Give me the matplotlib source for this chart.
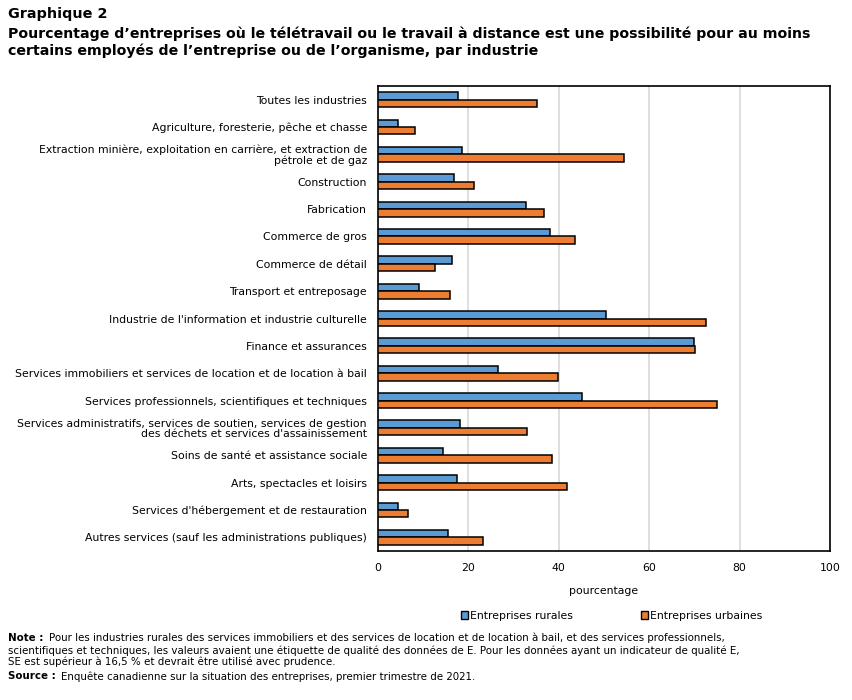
import numpy as np
import matplotlib
matplotlib.use('Agg')
import matplotlib.pyplot as plt
from matplotlib.patches import Patch

industries = [
    'Toutes les industries',
    'Agriculture, foresterie, pêche et chasse',
    'Extraction minière, exploitation en carrière, et extraction de\npétrole et de gaz',
    'Construction',
    'Fabrication',
    'Commerce de gros',
    'Commerce de détail',
    'Transport et entreposage',
    "Industrie de l'information et industrie culturelle",
    'Finance et assurances',
    'Services immobiliers et services de location et de location à bail',
    'Services professionnels, scientifiques et techniques',
    'Services administratifs, services de soutien, services de gestion\ndes déchets et services d\'assainissement',
    'Soins de santé et assistance sociale',
    'Arts, spectacles et loisirs',
    "Services d'hébergement et de restauration",
    'Autres services (sauf les administrations publiques)',
]
rurales = [17.6, 4.4, 18.5, 16.7, 32.7, 38.0, 16.3, 9.0, 50.5, 69.9,
           26.6, 45.1, 18.2, 14.3, 17.4, 4.4, 15.4]
urbaines = [35.2, 8.1, 54.4, 21.3, 36.7, 43.5, 12.7, 16.0, 72.5, 70.1,
            39.8, 74.9, 33.0, 38.5, 41.8, 6.6, 23.3]
xticks = [0, 20, 40, 60, 80, 100]

blue = '#5B9BD5'
orange = '#ED7D31'

fig = plt.figure(figsize=(8.52, 7.0), dpi=100)
ax = fig.add_axes([0.4437, 0.213, 0.5305, 0.664])

y = np.arange(len(industries))
h = 0.27
ax.barh(y - h / 2, rurales, height=h, color=blue, edgecolor='black', linewidth=1.1, zorder=3)
ax.barh(y + h / 2, urbaines, height=h, color=orange, edgecolor='black', linewidth=1.1, zorder=3)

ax.set_ylim(len(industries) - 0.5, -0.5)
ax.set_xlim(0, 100)
ax.set_yticks(y)
ax.set_yticklabels(industries, fontsize=7.8, ha='right', multialignment='right', linespacing=1.0)
ax.set_xticks(xticks)
ax.set_xticklabels([str(t) for t in xticks], fontsize=7.8)
ax.tick_params(axis='x', length=0, pad=9)
ax.tick_params(axis='y', length=0, pad=8)
ax.grid(axis='x', color='#d9d9d9', linewidth=1.2, zorder=0)
for s in ax.spines.values():
    s.set_linewidth(1.2)
    s.set_color('black')
ax.set_xlabel('pourcentage', fontsize=7.8, labelpad=9)

handles = [Patch(facecolor=blue, edgecolor='black', label='Entreprises rurales'),
           Patch(facecolor=orange, edgecolor='black', label='Entreprises urbaines')]
fig.legend(handles=handles, loc='center', bbox_to_anchor=(0.718, 0.12), ncol=2,
           frameon=False, fontsize=7.8, handlelength=0.6, handleheight=0.8,
           handletextpad=0.2, columnspacing=6.3)

fig.text(0.009, 0.99, 'Graphique 2', fontsize=10.35, fontweight='bold', va='top')
fig.text(0.009, 0.962,
         "Pourcentage d\u2019entreprises où le télétravail ou le travail à distance est une possibilité pour au moins\n"
         "certains employés de l\u2019entreprise ou de l\u2019organisme, par industrie",
         fontsize=10.2, fontweight='bold', va='top', linespacing=1.25)

fs = 7.4
fig.text(0.009, 0.096, 'Note :', fontsize=fs, fontweight='bold', va='top')
fig.text(0.058, 0.096,
         "Pour les industries rurales des services immobiliers et des services de location et de location à bail, et des services professionnels,",
         fontsize=fs, va='top')
fig.text(0.009, 0.078,
         "scientifiques et techniques, les valeurs avaient une étiquette de qualité des données de E. Pour les données ayant un indicateur de qualité E,\n"
         "SE est supérieur à 16,5 % et devrait être utilisé avec prudence.",
         fontsize=fs, va='top', linespacing=1.1)
fig.text(0.009, 0.041, 'Source :', fontsize=fs, fontweight='bold', va='top')
fig.text(0.072, 0.041, 'Enquête canadienne sur la situation des entreprises, premier trimestre de 2021.',
         fontsize=fs, va='top')

fig.savefig('out.png', dpi=100)
